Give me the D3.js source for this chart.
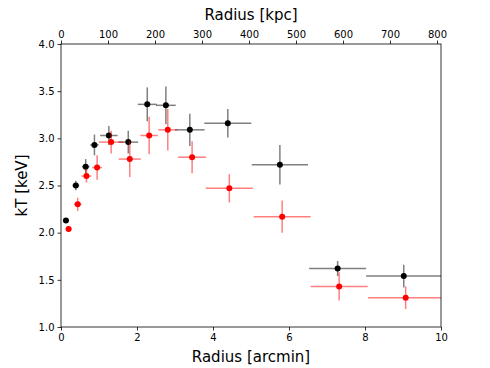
<!DOCTYPE html>
<html>
<head>
    <script src="https://d3js.org/d3.v7.min.js"></script>
    <style>
        body {
            margin: 0;
            font-family: 'DejaVu Sans';
            background: #fff;
        }
        .tick text {
            font-size: 10px;
        }
    </style>
</head>
<body>
    <script>
        // black series
        const blackR = [0.13, 0.39, 0.65, 0.88, 1.26, 1.77, 2.27, 2.76, 3.39, 4.39, 5.76, 7.28, 9.02];
        const blackRerr = [0.08, 0.09, 0.1, 0.11, 0.23, 0.26, 0.25, 0.26, 0.39, 0.62, 0.74, 0.75, 0.99];
        const blackT = [2.13, 2.50, 2.70, 2.93, 3.03, 2.96, 3.36, 3.35, 3.09, 3.16, 2.72, 1.62, 1.54];
        const blackTerr = [0.02, 0.05, 0.08, 0.11, 0.10, 0.12, 0.18, 0.20, 0.17, 0.15, 0.21, 0.08, 0.12];

        // red series
        const redR = [0.20, 0.44, 0.67, 0.95, 1.32, 1.81, 2.32, 2.81, 3.45, 4.43, 5.82, 7.32, 9.07];
        const redRerr = [0.08, 0.1, 0.13, 0.13, 0.32, 0.29, 0.23, 0.25, 0.37, 0.62, 0.75, 0.75, 0.99];
        const redT = [2.04, 2.30, 2.60, 2.69, 2.96, 2.78, 3.03, 3.09, 2.80, 2.47, 2.17, 1.43, 1.31];
        const redTerr = [0.03, 0.07, 0.07, 0.13, 0.12, 0.19, 0.20, 0.22, 0.17, 0.15, 0.17, 0.15, 0.12];

        const kpcPerArcmin = 80.85;
        const yTicks = [1.0, 1.5, 2.0, 2.5, 3.0, 3.5, 4.0];

        const width = 490, height = 368;
        const margin = {top: 44, right: 49, bottom: 41, left: 61};
        const iw = width - margin.left - margin.right,
            ih = height - margin.top - margin.bottom;

        const svg = d3.select('body').append('svg')
            .attr('width', width)
            .attr('height', height);

        const g = svg.append('g')
            .attr('transform', `translate(${margin.left},${margin.top})`);

        const x = d3.scaleLinear().domain([0, 10]).range([0, iw]);
        const xTop = d3.scaleLinear().domain([0, 10 * kpcPerArcmin]).range([0, iw]);
        const y = d3.scaleLinear().domain([1, 4]).range([ih, 0]);

        const series = [
            {r: blackR, re: blackRerr, t: blackT, te: blackTerr, color: '#000', bar: 'rgba(0,0,0,0.5)'},
            {r: redR, re: redRerr, t: redT, te: redTerr, color: '#ff0000', bar: 'rgba(255,0,0,0.5)'}
        ];

        series.forEach(s => {
            const pts = s.r.map((r, i) => ({r, re: s.re[i], t: s.t[i], te: s.te[i]}));
            const grp = g.append('g');
            grp.selectAll('line.xe').data(pts).enter().append('line')
                .attr('x1', d => x(d.r - d.re)).attr('x2', d => x(Math.min(10, d.r + d.re)))
                .attr('y1', d => y(d.t)).attr('y2', d => y(d.t))
                .attr('stroke', s.bar).attr('stroke-width', 1.5);
            grp.selectAll('line.ye').data(pts).enter().append('line')
                .attr('x1', d => x(d.r)).attr('x2', d => x(d.r))
                .attr('y1', d => y(d.t - d.te)).attr('y2', d => y(d.t + d.te))
                .attr('stroke', s.bar).attr('stroke-width', 1.5);
            grp.selectAll('circle').data(pts).enter().append('circle')
                .attr('cx', d => x(d.r)).attr('cy', d => y(d.t))
                .attr('r', 3).attr('fill', s.color);
        });

        // frame
        g.append('rect')
            .attr('width', iw).attr('height', ih)
            .attr('fill', 'none').attr('stroke', '#000').attr('stroke-width', 0.8);

        const styleAxis = sel => {
            sel.select('.domain').remove();
            sel.selectAll('.tick line').attr('stroke', '#000').attr('stroke-width', 0.8);
            sel.selectAll('.tick text').attr('fill', '#000');
        };

        g.append('g')
            .attr('transform', `translate(0,${ih})`)
            .call(d3.axisBottom(x).tickValues([0, 2, 4, 6, 8, 10]).tickSize(3.5).tickPadding(3).tickFormat(d3.format('d')))
            .call(styleAxis);

        g.append('g')
            .call(d3.axisTop(xTop).tickValues(d3.range(0, 900, 100)).tickSize(3.5).tickPadding(3).tickFormat(d3.format('d')))
            .call(styleAxis);

        g.append('g')
            .call(d3.axisLeft(y).tickValues(yTicks).tickSize(3.5).tickPadding(3).tickFormat(d3.format('.1f')))
            .call(styleAxis);

        svg.selectAll('.tick text').style('font-family', 'DejaVu Sans');

        svg.append('text')
            .attr('x', margin.left + iw / 2).attr('y', 362)
            .attr('text-anchor', 'middle')
            .style('font-size', '15px')
            .text('Radius [arcmin]');

        svg.append('text')
            .attr('x', margin.left + iw / 2).attr('y', 20)
            .attr('text-anchor', 'middle')
            .style('font-size', '15px')
            .text('Radius [kpc]');

        svg.append('text')
            .attr('transform', `translate(27,${margin.top + ih / 2}) rotate(-90)`)
            .attr('text-anchor', 'middle')
            .style('font-size', '15px')
            .text('kT [keV]');
    </script>
</body>
</html>
